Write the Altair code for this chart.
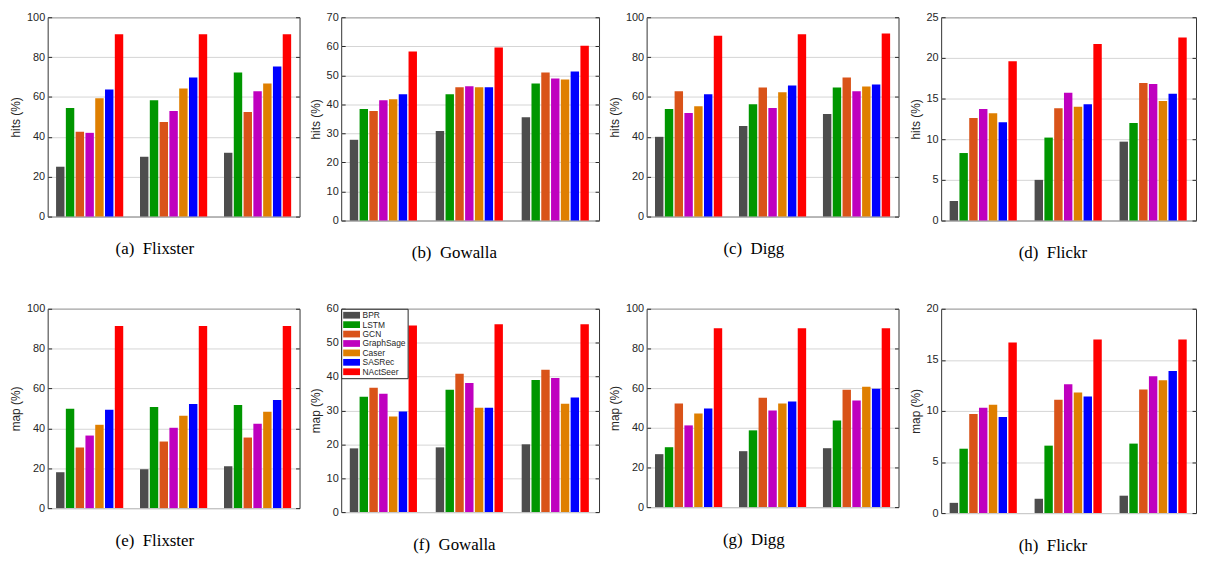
import altair as alt
import pandas as pd

models = ["BPR", "LSTM", "GCN", "GraphSage", "Caser", "SASRec", "NActSeer"]
colors = ["#4d4d4d", "#009600", "#d95319", "#bf00bf", "#df7f00", "#0000ff", "#ff0000"]

hits_cats = ["hits@5", "hits@10", "hits@20"]
map_cats = ["map@5", "map@10", "map@20"]

# one inner list per category, values in model order
flixster_hits = [[25.0, 54.4, 42.5, 42.0, 59.4, 63.8, 91.4],
                 [30.0, 58.4, 47.4, 52.9, 64.3, 69.8, 91.4],
                 [32.0, 72.3, 52.4, 62.9, 66.8, 75.3, 91.4]]
gowalla_hits = [[27.8, 38.4, 37.7, 41.4, 41.8, 43.5, 58.2],
                [30.8, 43.5, 45.9, 46.2, 45.9, 45.9, 59.6],
                [35.6, 47.2, 51.0, 48.9, 48.6, 51.3, 60.2]]
digg_hits = [[40.0, 53.9, 62.9, 51.9, 55.4, 61.4, 90.7],
             [45.4, 56.4, 64.8, 54.4, 62.4, 65.8, 91.4],
             [51.4, 64.8, 69.8, 62.9, 65.3, 66.3, 91.9]]
flickr_hits = [[2.4, 8.3, 12.6, 13.7, 13.2, 12.1, 19.6],
               [5.0, 10.2, 13.8, 15.7, 14.0, 14.3, 21.7],
               [9.7, 12.0, 16.9, 16.8, 14.7, 15.6, 22.5]]
flixster_map = [[18.0, 49.8, 30.4, 36.4, 41.8, 49.3, 91.4],
                [19.5, 50.7, 33.4, 40.3, 46.3, 52.2, 91.4],
                [21.0, 51.7, 35.4, 42.3, 48.3, 54.2, 91.4]]
gowalla_map = [[18.8, 34.0, 36.7, 34.9, 28.2, 29.7, 55.1],
               [19.1, 36.1, 40.8, 38.1, 30.8, 30.8, 55.4],
               [20.0, 39.0, 42.0, 39.6, 32.0, 33.8, 55.4]]
digg_map = [[26.7, 30.2, 52.2, 41.2, 47.2, 49.7, 90.2],
            [28.2, 38.7, 55.2, 48.7, 52.2, 53.2, 90.2],
            [29.7, 43.7, 59.2, 53.7, 60.7, 59.7, 90.2]]
flickr_map = [[1.0, 6.3, 9.7, 10.3, 10.6, 9.4, 16.7],
              [1.4, 6.6, 11.1, 12.6, 11.8, 11.4, 17.0],
              [1.7, 6.8, 12.1, 13.4, 13.0, 13.9, 17.0]]

SANS = "Liberation Sans"
SERIF = "Liberation Serif"
INK = "#262626"


def panel(cats, vals, ymax, ystep, ytitle, caption, w, h, legend=False):
    rows = []
    for c, vs in zip(cats, vals):
        for m, v in zip(models, vs):
            rows.append({"cat": c, "model": m, "value": v})
    df = pd.DataFrame(rows)
    ticks = list(range(0, ymax + 1, ystep))
    xs = alt.Scale(domain=cats, paddingInner=0.2, paddingOuter=0.1)
    xo = alt.XOffset("model:N", scale=alt.Scale(domain=models, paddingInner=0.14, paddingOuter=0))
    ys = alt.Scale(domain=[0, ymax], nice=False, zero=True)
    if legend:
        leg = alt.Legend(orient="top-left", offset=0, title=None, padding=2,
                         strokeColor=INK, fillColor="white",
                         symbolType="M-2,-0.8H2V0.8H-2Z", symbolSize=72,
                         symbolStrokeWidth=0, symbolOpacity=1, symbolOffset=4,
                         labelFont=SANS, labelFontSize=8.5, labelColor=INK,
                         labelOffset=6.5, rowPadding=0.5, cornerRadius=0)
    else:
        leg = None
    bars = alt.Chart(df).mark_bar().encode(
        x=alt.X("cat:N", scale=xs, title=None,
                axis=alt.Axis(labelAngle=0, ticks=False, domain=False, grid=False,
                              labelPadding=6)),
        xOffset=xo,
        y=alt.Y("value:Q", scale=ys, title=ytitle,
                axis=alt.Axis(values=ticks, grid=True, domain=False, offset=-4,
                              tickSize=4, labelPadding=3, titlePadding=4)),
        color=alt.Color("model:N", scale=alt.Scale(domain=models, range=colors), legend=leg),
    )
    # right-hand axis: inward ticks only (MATLAB box style)
    frame = alt.Chart(df).mark_bar(opacity=0).encode(
        x=alt.X("cat:N", scale=xs, axis=None),
        xOffset=xo,
        y=alt.Y("value:Q", scale=ys, title=None,
                axis=alt.Axis(orient="right", labels=False, values=ticks, domain=False,
                              grid=False, offset=-4, tickSize=4, minExtent=0, maxExtent=0)),
    )
    return alt.layer(bars, frame).resolve_axis(y="independent").properties(
        width=w, height=h,
        title=alt.TitleParams(caption, orient="bottom", anchor="middle", frame="bounds",
                              font=SERIF, fontSize=17, fontWeight="normal",
                              color="black", offset=20),
    )


def spacer(w, h):
    return alt.Chart(pd.DataFrame({"a": [0]})).mark_point(
        opacity=0, size=0, strokeWidth=0, filled=True
    ).encode(x=alt.value(0), y=alt.value(0)).properties(
        width=w, height=h, view=alt.ViewBackground(stroke="transparent", strokeWidth=0))


NB = "\u00a0"
W = [254, 260, 254, 257]
pa = panel(hits_cats, flixster_hits, 100, 20, "hits (%)", "(a)" + NB + NB + "Flixster", W[0], 201)
pb = panel(hits_cats, gowalla_hits, 70, 10, "hits (%)", "(b)" + NB + NB + "Gowalla", W[1], 205)
pc = panel(hits_cats, digg_hits, 100, 20, "hits (%)", "(c)" + NB + NB + "Digg", W[2], 201)
pd_ = panel(hits_cats, flickr_hits, 25, 5, "hits (%)", "(d)" + NB + NB + "Flickr", W[3], 205)
pe = panel(map_cats, flixster_map, 100, 20, "map (%)", "(e)" + NB + NB + "Flixster", W[0], 201)
pf = panel(map_cats, gowalla_map, 60, 10, "map (%)", "(f)" + NB + NB + "Gowalla", W[1], 205, legend=True)
pg = panel(map_cats, digg_map, 100, 20, "map (%)", "(g)" + NB + NB + "Digg", W[2], 200)
ph = panel(map_cats, flickr_map, 20, 5, "map (%)", "(h)" + NB + NB + "Flickr", W[3], 206)

gaps = [42, 48, 42.7]          # free space between neighbouring plot frames
top_space = [6, 1, 6, 1.4]     # space above each top-row panel
mid_space = [86.7, 84.3, 88.3, 82.9]  # space between the two rows, per column


def spacer_row(hs):
    cells = []
    for i in range(4):
        cells.append(spacer(1, hs[i]))
        if i < 3:
            cells.append(spacer(gaps[i], 1))
    return cells


def panel_row(ps):
    cells = []
    for i in range(4):
        cells.append(ps[i])
        if i < 3:
            cells.append(spacer(gaps[i], 1))
    return cells


cells = (spacer_row(top_space) + panel_row([pa, pb, pc, pd_])
         + spacer_row(mid_space) + panel_row([pe, pf, pg, ph]))

grid = alt.ConcatChart(
    concat=cells,
    columns=7,
    align="none",
    bounds="flush",
    spacing=0,
).resolve_scale(color="independent").resolve_legend(color="independent")

chart = grid.properties(
    padding={"left": 1, "top": 0, "right": 0, "bottom": 0}
).configure_axis(
    labelFont=SANS, titleFont=SANS, labelFontSize=11, titleFontSize=12,
    labelColor=INK, titleColor=INK, titleFontWeight="normal",
    tickColor=INK, gridColor="#d4d4d4", gridWidth=1,
).configure_view(stroke="#333333", strokeWidth=1)

chart.save("out.html", embed_options={"renderer": "svg", "actions": False})
